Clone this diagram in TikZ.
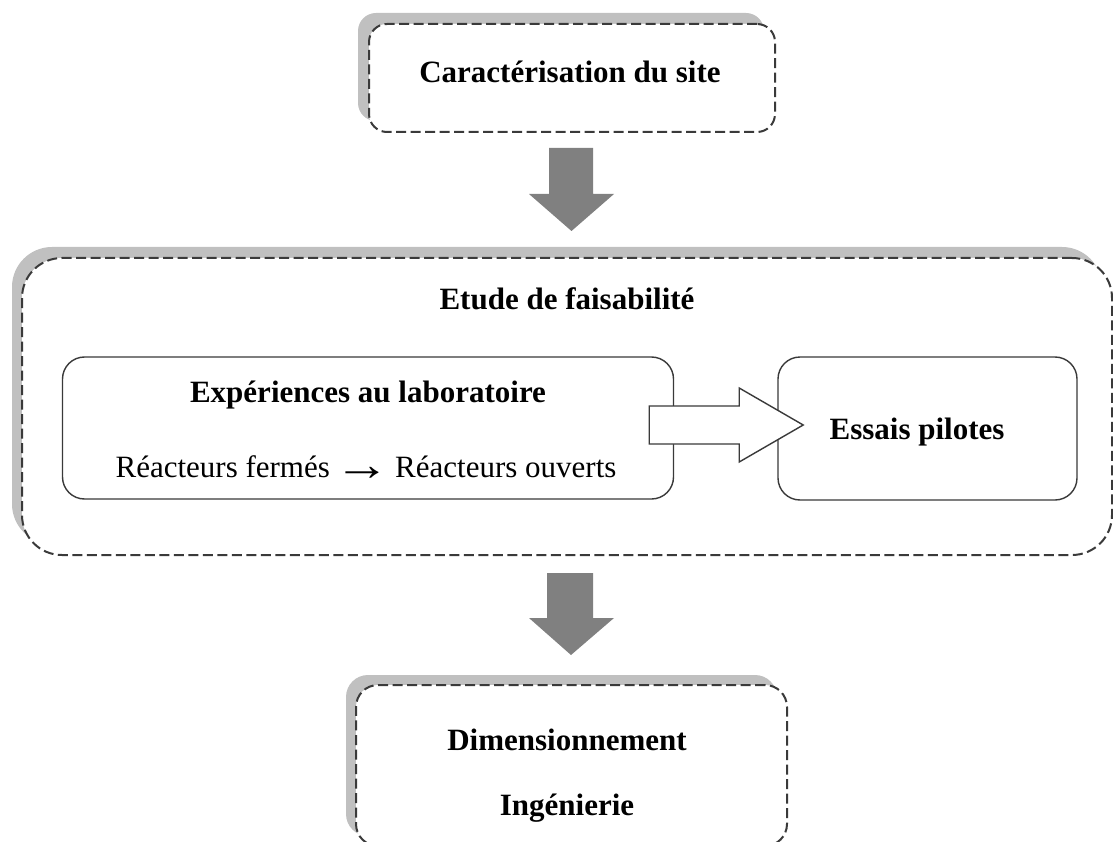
\documentclass[tikz,border=0pt]{standalone}
\usepackage{fontspec}
\usepackage{graphicx}
\setmainfont{Liberation Serif}
\usetikzlibrary{calc}
\definecolor{shadowgray}{HTML}{C0C0C0}
\definecolor{linegray}{HTML}{3A3A3A}
\definecolor{arrowgray}{HTML}{808080}
\tikzset{
  dashbox/.style={draw=linegray, line width=2pt, dash pattern=on 10pt off 4.5pt, fill=white, rounded corners=#1},
  shadowbox/.style={fill=shadowgray, draw=none, rounded corners=#1},
  solidbox/.style={draw=linegray, line width=1.4pt, fill=white, rounded corners=22pt},
  lbl/.style={font=\fontsize{31}{36}\selectfont\bfseries, text height=21pt, text depth=7pt, inner sep=0pt},
  lblr/.style={font=\fontsize{31}{36}\selectfont, text height=21pt, text depth=7pt, inner sep=0pt},
  grayarrow/.style={fill=arrowgray, draw=none},
  whitearrow/.style={fill=white, draw=linegray, line width=1.4pt},
}
\begin{document}
\begin{tikzpicture}[x=1pt,y=-1pt]
\useasboundingbox (0,0) rectangle (1113,842);
\clip (0,0) rectangle (1113,842);
% top box
\fill[shadowbox=18pt] (358,13) rectangle (764,121);
\node[dashbox=18pt, minimum width=406pt, minimum height=108pt, inner sep=0pt] (top) at (572,78) {};
\node[lbl] (toptxt) at (570,76) {Caractérisation du site};
% big box
\fill[shadowbox=40pt] (12,247) rectangle (1102,544);
\node[dashbox=40pt, minimum width=1090pt, minimum height=297pt, inner sep=0pt] (big) at (567,406.5) {};
\node[lbl] (bigtxt) at (567,302) {Etude de faisabilité};
% inner boxes
\node[solidbox, minimum width=611pt, minimum height=142pt, inner sep=0pt] (lab) at (368,428) {};
\node[lbl] (labtxt) at (368,395) {Expériences au laboratoire};
\node[lblr] (labsub) at (366,470) {Réacteurs fermés\hspace{-3pt} \raisebox{-3pt}{\scalebox{1.8}[1.5]{→}}\hspace{-3pt} Réacteurs ouverts};
\node[solidbox, minimum width=299pt, minimum height=143pt, inner sep=0pt] (pilot) at (927.5,428.5) {};
\node[lbl] (pilottxt) at (917,432) {Essais pilotes};
% bottom box
\fill[shadowbox=22pt] (346,675) rectangle (777,836);
\node[dashbox=22pt, minimum width=431pt, minimum height=161pt, inner sep=0pt] (bot) at (571.5,765.5) {};
\node[lbl] (bottxt1) at (567,743) {Dimensionnement};
\node[lbl] (bottxt2) at (567,808) {Ingénierie};
% gray arrows
\fill[grayarrow] ($(top.south)+(-23,15)$) -- ++(44,0) -- ++(0,46) -- ++(21,0) -- ($(top.south)+(-0.5,98)$) -- ($(top.south)+(-43,61)$) -- ++(20,0) -- cycle;
\fill[grayarrow] ($(big.south)+(-20,17)$) -- ++(46,0) -- ++(0,45) -- ++(21,0) -- ($(big.south)+(4,99)$) -- ($(big.south)+(-38,62)$) -- ++(18,0) -- cycle;
% white block arrow
\draw[whitearrow] ($(lab.east)+(-25,-22)$) -- ++(90,0) -- ++(0,-18) -- ($(lab.east)+(129,-3)$) -- ($(lab.east)+(65,34)$) -- ++(0,-18) -- ($(lab.east)+(-25,16)$) -- cycle;
\end{tikzpicture}
\end{document}
